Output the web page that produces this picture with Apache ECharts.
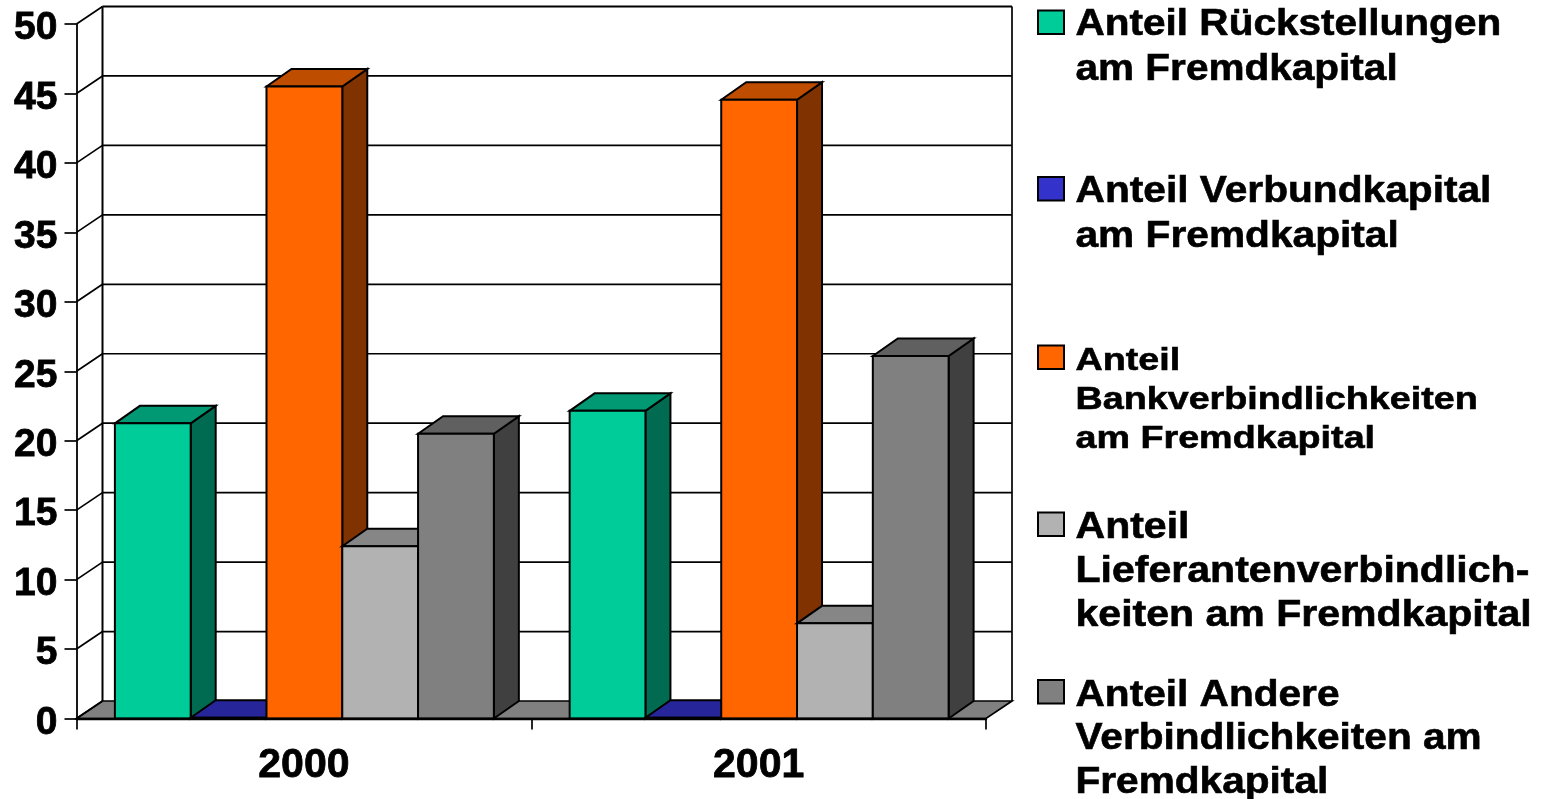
<!DOCTYPE html>
<html>
<head>
<meta charset="utf-8">
<style>html,body{margin:0;padding:0;background:#fff}#c{width:1548px;height:799px}</style>
<script src="https://cdn.jsdelivr.net/npm/echarts@6/dist/echarts.min.js"></script>
</head>
<body>
<div id="c"></div>
<script>
const categories = ['2000', '2001'];
const tickValues = [0, 5, 10, 15, 20, 25, 30, 35, 40, 45, 50];
const seriesNames = [
  'Anteil Rückstellungen am Fremdkapital',
  'Anteil Verbundkapital am Fremdkapital',
  'Anteil Bankverbindlichkeiten am Fremdkapital',
  'Anteil Lieferantenverbindlichkeiten am Fremdkapital',
  'Anteil Andere Verbindlichkeiten am Fremdkapital'
];
const ruckstellungen = [21.25, 22.15];
const verbundkapital = [0.05, 0.05];
const bankverbindlichkeiten = [45.5, 44.55];
const lieferanten = [12.4, 6.85];
const andere = [20.5, 26.1];
const seriesValues = [ruckstellungen, verbundkapital, bankverbindlichkeiten, lieferanten, andere];

const legendLines = [
  ['Anteil Rückstellungen', 'am Fremdkapital'],
  ['Anteil Verbundkapital', 'am Fremdkapital'],
  ['Anteil', 'Bankverbindlichkeiten', 'am Fremdkapital'],
  ['Anteil', 'Lieferantenverbindlich-', 'keiten am Fremdkapital'],
  ['Anteil Andere', 'Verbindlichkeiten am', 'Fremdkapital']
];

// styles
const front = ['#00CC99', '#3333CC', '#FF6600', '#B2B2B2', '#808080'];
const topFace = ['#009973', '#26269A', '#BF4D00', '#868686', '#606060'];
const sideFace = ['#006B50', '#1A1A66', '#803300', '#5A5A5A', '#404040'];
const legendBaselines = [[34, 79], [201, 246], [369, 408, 447], [537, 581, 625], [705, 748, 792]];
const legendSwatchTop = [10, 176.5, 345, 512, 679.5];
const legendFont = [36, 36, 32, 36, 36];
const legendScale = [1.126, 1.13, 1.178, 1.14, 1.128];
const DX = 25, DY = 17.5;

const wallSeries = {
  type: 'custom', silent: true, clip: false, z: 1,
  data: tickValues.map(v => [0, v]),
  encode: { x: 0, y: 1 },
  renderItem(params, api) {
    const cs = params.coordSys;
    const y = api.coord([0, api.value(1)])[1];
    const x0 = cs.x, x1 = cs.x + cs.width;
    const line = { stroke: '#000', lineWidth: 1.7, fill: null };
    const els = [];
    if (params.dataIndex === 0) {
      els.push({ type: 'polygon', shape: { points: [[x0, y], [x0 + 26, y - DY], [x1 + 26, y - DY], [x1, y]] },
        style: { fill: '#808080', stroke: '#000', lineWidth: 1.7 } });
      els.push({ type: 'line', shape: { x1: x0 + 26, y1: cs.y - DY, x2: x0 + 26, y2: y - DY }, style: { stroke: '#000', lineWidth: 2 } });
      els.push({ type: 'line', shape: { x1: x1 + 26, y1: cs.y - DY, x2: x1 + 26, y2: y - DY }, style: { stroke: '#000', lineWidth: 1.7 } });
    }
    els.push({ type: 'line', shape: { x1: x0, y1: y, x2: x0 + 26, y2: y - DY }, style: line });
    if (params.dataIndex > 0) {
      els.push({ type: 'line', shape: { x1: x0 + 26, y1: y - DY, x2: x1 + 26, y2: y - DY }, style: { stroke: '#000', lineWidth: params.dataIndex === tickValues.length - 1 ? 2.2 : 1.7 } });
    }
    return { type: 'group', children: els };
  }
};

const barSeries = seriesValues.map((vals, s) => ({
  type: 'custom', name: seriesNames[s], silent: true, clip: false, z: 2,
  data: vals.map((v, i) => [i, v]),
  encode: { x: 0, y: 1 },
  renderItem(params, api) {
    const i = api.value(0), v = api.value(1);
    const band = api.size([1, 0])[0];
    const w = band / 1.2 / 5;
    const top = api.coord([i, v]), base = api.coord([i, 0]);
    const l = top[0] - 2.5 * w + s * w + 0.5, r = l + w, t = top[1], b = base[1];
    const edge = { stroke: '#000', lineWidth: 2, lineJoin: 'miter' };
    return { type: 'group', children: [
      { type: 'polygon', shape: { points: [[r, b], [r + DX, b - DY], [r + DX, t - DY], [r, t]] }, style: Object.assign({ fill: sideFace[s] }, edge) },
      { type: 'polygon', shape: { points: [[l, t], [l + DX, t - DY], [r + DX, t - DY], [r, t]] }, style: Object.assign({ fill: topFace[s] }, edge) },
      { type: 'rect', shape: { x: l, y: t, width: w, height: b - t }, style: Object.assign({ fill: front[s] }, edge) }
    ] };
  }
}));

const graphic = [];
legendLines.forEach((lines, k) => {
  graphic.push({ type: 'rect', left: 1037, top: legendSwatchTop[k] - 0.5, shape: { width: 26, height: 23.5 },
    style: { fill: front[k], stroke: '#000', lineWidth: 2 } });
  lines.forEach((txt, j) => {
    graphic.push({ type: 'text', x: 1075.5, y: legendBaselines[k][j] - Math.round(legendFont[k] * 0.76), scaleX: legendScale[k],
      style: { text: txt, fill: '#000', stroke: '#000', lineWidth: 0.6,
        font: 'bold ' + legendFont[k] + 'px "Liberation Sans", Arial, sans-serif' } });
  });
});

const chart = echarts.init(document.getElementById('c'), null, { renderer: 'canvas' });
chart.setOption({
  animation: false,
  backgroundColor: '#fff',
  grid: { left: 76.5, top: 24, width: 909.5, height: 694.5, containLabel: false },
  xAxis: {
    type: 'category', data: categories, z: 5,
    axisLine: { lineStyle: { color: '#000', width: 2.4 } },
    axisTick: { show: true, length: 11, lineStyle: { color: '#000', width: 1.7 } },
    axisLabel: { color: '#000', fontFamily: '"Liberation Sans"', fontWeight: 'bold', fontSize: 41, margin: 27,
      textBorderColor: '#000', textBorderWidth: 0.8 },
    splitLine: { show: false }
  },
  yAxis: {
    type: 'value', min: 0, max: 50, interval: 5, z: 5,
    axisLine: { show: true, lineStyle: { color: '#000', width: 1.8 } },
    axisTick: { show: true, length: 12, lineStyle: { color: '#000', width: 1.7 } },
    axisLabel: { color: '#000', fontFamily: '"Liberation Sans"', fontWeight: 'bold', fontSize: 39, margin: 19,
      verticalAlign: 'top', lineHeight: 9, textBorderColor: '#000', textBorderWidth: 0.8,
      formatter: v => tickValues.includes(v) ? String(v) : '' },
    splitLine: { show: false }
  },
  graphic: { elements: graphic },
  series: [wallSeries].concat(barSeries)
});
</script>
</body>
</html>
